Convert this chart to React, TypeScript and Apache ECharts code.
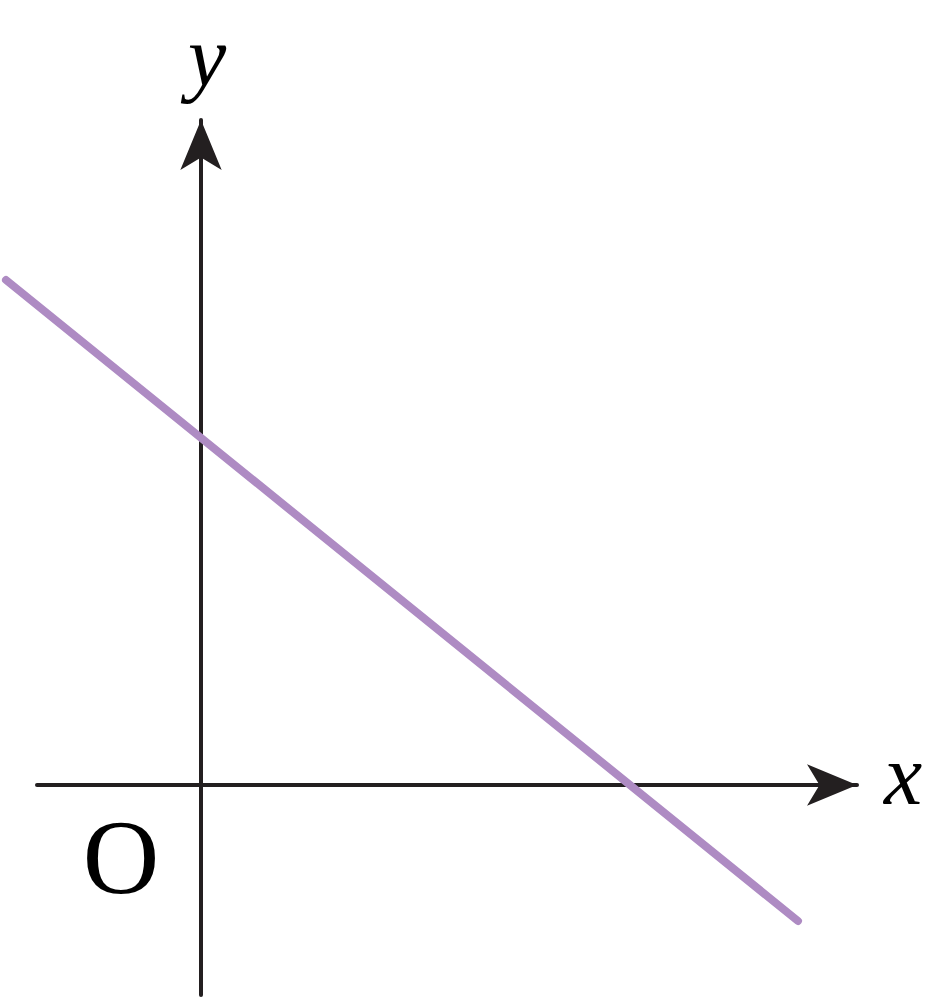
import React, { useEffect, useRef } from "react";
import * as echarts from "echarts";

// Line values in chart units (1 unit = 100 px)
const lineX = [-1.95, 5.97];
const lineY = [5.05, -1.36];

// visible axes extent
const xRange = [-1.64, 6.56];
const yRange = [-2.1, 6.65];
// full-canvas extent used for the line (same scale)
const xFull = [-2.01, 7.29];
const yFull = [-2.12, 7.85];

const axisLabels = ["x", "y"];
const originLabel = "O";

export default function App() {
  const ref = useRef<HTMLDivElement>(null);
  useEffect(() => {
    if (!ref.current) return;
    const chart = echarts.init(ref.current, null, { renderer: "svg" });
    const axisColor = "#231f20";
    const common = {
      type: "value" as const,
      axisTick: { show: false },
      axisLabel: { show: false },
      splitLine: { show: false },
      axisLine: {
        show: true,
        onZero: true,
        symbol: ["none", "arrow"],
        symbolSize: [31, 50],
        lineStyle: { color: axisColor, width: 4 },
      },
    };
    const hidden = {
      type: "value" as const,
      show: false,
      axisLine: { show: false, onZero: false },
      splitLine: { show: false },
    };
    chart.setOption({
      animation: false,
      backgroundColor: "#ffffff",
      grid: [
        { left: 37, top: 120, width: 820, height: 875 },
        { left: 0, top: 0, width: 930, height: 997 },
      ],
      xAxis: [
        { ...common, gridIndex: 0, min: xRange[0], max: xRange[1] },
        { ...hidden, gridIndex: 1, min: xFull[0], max: xFull[1] },
      ],
      yAxis: [
        { ...common, gridIndex: 0, min: yRange[0], max: yRange[1] },
        { ...hidden, gridIndex: 1, min: yFull[0], max: yFull[1] },
      ],
      series: [
        {
          type: "line",
          xAxisIndex: 1,
          yAxisIndex: 1,
          data: lineX.map((x, i) => [x, lineY[i]]),
          showSymbol: false,
          clip: false,
          lineStyle: { color: "#ae8bc3", width: 8, cap: "round" },
          z: 5,
        },
      ],
      graphic: [
        {
          type: "text",
          x: 903,
          y: 818,
          style: {
            text: axisLabels[0],
            font: "italic 86px 'Liberation Serif'",
            fill: "#000",
            align: "center",
            verticalAlign: "bottom",
          },
          silent: true,
        },
        {
          type: "text",
          x: 207,
          y: 99,
          style: {
            text: axisLabels[1],
            font: "italic 86px 'Liberation Serif'",
            fill: "#000",
            align: "center",
            verticalAlign: "bottom",
          },
          silent: true,
        },
        {
          type: "text",
          x: 121,
          y: 857,
          style: {
            text: originLabel,
            font: "106px 'Liberation Serif'",
            fill: "#000",
            align: "center",
            verticalAlign: "middle",
          },
          silent: true,
        },
      ],
    });
    return () => chart.dispose();
  }, []);
  return (
    <div
      ref={ref}
      style={{ position: "fixed", left: 0, top: 0, width: 930, height: 997 }}
    />
  );
}
